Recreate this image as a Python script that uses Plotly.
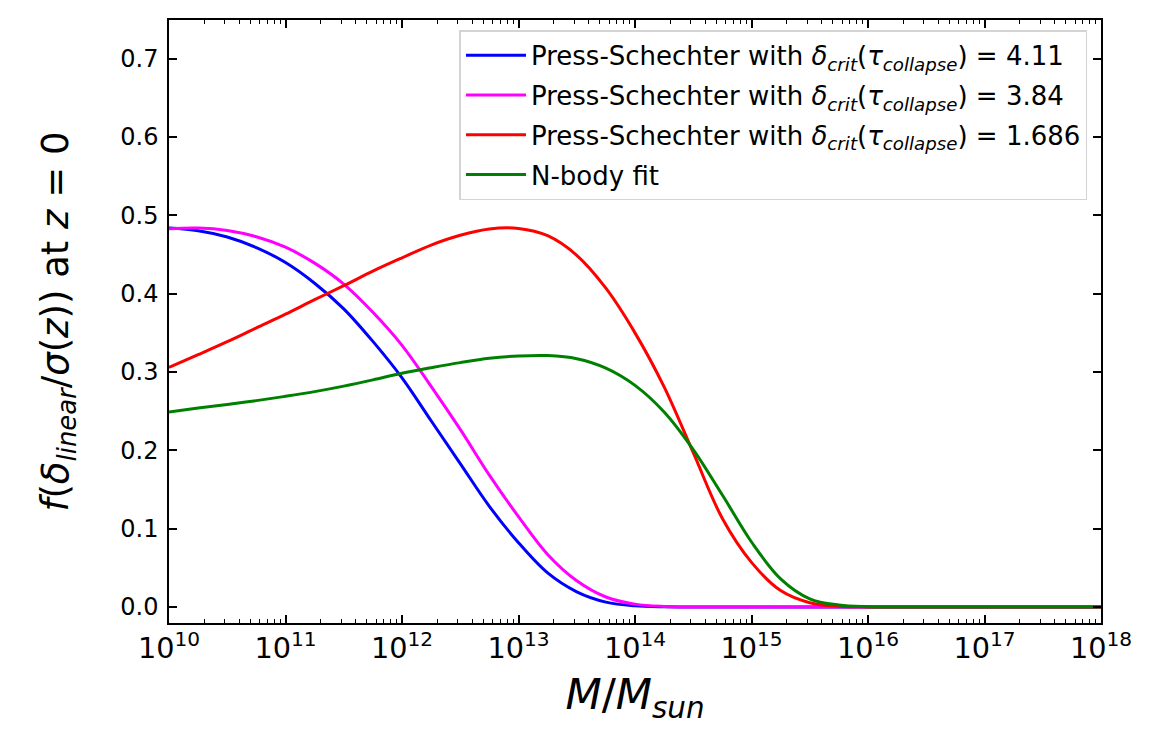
import plotly.graph_objects as go

# log10 of halo mass (M / M_sun)
log10_mass = [10.0, 10.25, 10.5, 10.75, 11.0, 11.25, 11.5, 11.75, 12.0, 12.25, 12.5, 12.75,
              13.0, 13.25, 13.5, 13.75, 14.0, 14.25, 14.5, 14.75, 15.0, 15.25, 15.5, 15.75,
              16.0, 16.5, 17.0, 17.5, 18.0]

ps_411 = [0.4838, 0.4804, 0.4724, 0.4589, 0.4398, 0.4134, 0.3807, 0.3391, 0.2926, 0.2378,
          0.1831, 0.1285, 0.0821, 0.0435, 0.0194, 0.0063, 0.0015, 0.0002, 0.0, 0.0,
          0.0, 0.0, 0.0, 0.0, 0.0, 0.0, 0.0, 0.0, 0.0]

ps_384 = [0.4829, 0.4838, 0.4807, 0.4727, 0.4593, 0.4390, 0.4123, 0.3763, 0.3341, 0.2818,
          0.2267, 0.1683, 0.1153, 0.0671, 0.0335, 0.0128, 0.0037, 0.0007, 0.0001, 0.0,
          0.0, 0.0, 0.0, 0.0, 0.0, 0.0, 0.0, 0.0, 0.0]

ps_1686 = [0.3059, 0.3221, 0.3387, 0.3563, 0.3738, 0.3923, 0.4102, 0.4288, 0.4458, 0.4621,
           0.4746, 0.4826, 0.4833, 0.4740, 0.4490, 0.4070, 0.3500, 0.2810, 0.1970, 0.1130,
           0.0570, 0.0210, 0.0055, 0.0010, 0.0001, 0.0, 0.0, 0.0, 0.0]

nbody = [0.249, 0.254, 0.2585, 0.2635, 0.269, 0.275, 0.282, 0.290, 0.2985, 0.3055,
         0.312, 0.3175, 0.3205, 0.321, 0.317, 0.305, 0.283, 0.249, 0.201, 0.143,
         0.083, 0.036, 0.0105, 0.0025, 0.0004, 0.0, 0.0, 0.0, 0.0]

series_names = [
    "Press-Schechter with <i>δ</i><sub><i>crit</i></sub>(<i>τ</i><sub><i>collapse</i></sub>) = 4.11",
    "Press-Schechter with <i>δ</i><sub><i>crit</i></sub>(<i>τ</i><sub><i>collapse</i></sub>) = 3.84",
    "Press-Schechter with <i>δ</i><sub><i>crit</i></sub>(<i>τ</i><sub><i>collapse</i></sub>) = 1.686",
    "N-body fit",
]
series_colors = ["#0000ff", "#ff00ff", "#ff0000", "#008000"]
y_ticks = [0.0, 0.1, 0.2, 0.3, 0.4, 0.5, 0.6, 0.7]

mass = [10 ** v for v in log10_mass]
FONT = "DejaVu Sans"

fig = go.Figure()
for i, (vals, name, col) in enumerate(zip([ps_411, ps_384, ps_1686, nbody], series_names, series_colors)):
    fig.add_trace(go.Scatter(
        x=mass, y=vals, mode="lines", name=name, legendgroup=str(i),
        line=dict(color=col, width=3, shape="spline", smoothing=1.0),
    ))

axis_common = dict(
    showline=True, linecolor="black", linewidth=1.5, mirror="ticks",
    ticks="inside", ticklen=8, tickwidth=1.5, tickcolor="black",
    showgrid=False, zeroline=False,
)

fig.update_xaxes(
    type="log", range=[10, 18], dtick=1, exponentformat="power", showexponent="all",
    minor=dict(ticks="inside", ticklen=4.5, tickwidth=1.2, tickcolor="black", dtick="D1", showgrid=False),
    tickfont=dict(family=FONT, size=23, color="black"),
    title=dict(text="<i>M</i>/<i>M</i><sub><i>sun</i></sub>", font=dict(family=FONT, size=42, color="black"), standoff=16),
    automargin=False,
    **axis_common,
)
fig.update_yaxes(
    range=[-0.0204, 0.7494], tickvals=y_ticks, tickformat=".1f",
    tickfont=dict(family=FONT, size=24, color="black"),
    ticklabelstandoff=4,
    title=dict(text="<i>f</i>(<i>δ</i><sub><i>linear</i></sub>/<i>σ</i>(<i>z</i>)) at <i>z</i> = 0",
               font=dict(family=FONT, size=37, color="black"), standoff=40),
    automargin=False,
    **axis_common,
)

fig.update_layout(
    width=1149, height=743,
    margin=dict(l=161, r=56, t=12, b=128, pad=0),
    plot_bgcolor="white", paper_bgcolor="white",
    font=dict(family=FONT, color="black"),
    legend=dict(
        x=0.9855, y=0.983, xanchor="right", yanchor="top",
        bgcolor="rgba(255,255,255,0.85)", bordercolor="#d4d4d4", borderwidth=1.5,
        font=dict(family=FONT, size=26, color="black"),
        tracegroupgap=3, itemwidth=60,
    ),
    showlegend=True,
)

fig.write_html("out.html")
